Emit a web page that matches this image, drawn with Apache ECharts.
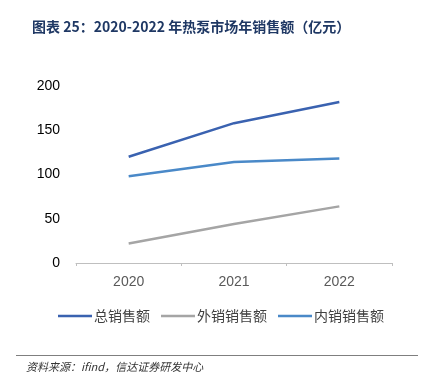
<!DOCTYPE html>
<html>
<head>
<meta charset="utf-8">
<script src="https://cdn.jsdelivr.net/npm/echarts@6/dist/echarts.min.js"></script>
<style>html,body{margin:0;padding:0;background:#fff}#c{width:423px;height:385px}</style>
</head>
<body>
<div id="c"></div>
<script>
const categories = ['2020', '2021', '2022'];
const totalSales = [120, 158, 182];
const exportSales = [22, 44, 64];
const domesticSales = [98, 114, 118];
const seriesNames = ['总销售额', '外销销售额', '内销销售额'];
const yTicks = [0, 50, 100, 150, 200];

const chart = echarts.init(document.getElementById('c'), null, {renderer: 'canvas'});
const font = '"Noto Sans CJK SC", "Liberation Sans", sans-serif';
chart.setOption({
  animation: false,
  backgroundColor: '#fff',
  title: {
    text: '图表 25：2020-2022 年热泵市场年销售额（亿元）',
    left: 27, top: 15,
    textStyle: {fontSize: 14, fontWeight: 'bold', color: '#1f3864', fontFamily: font}
  },
  grid: {left: 76, right: 31, top: 86, bottom: 122},
  legend: {
    data: seriesNames,
    icon: 'rect',
    left: 53, top: 304,
    itemWidth: 34, itemHeight: 2.5, itemGap: 11,
    textStyle: {fontSize: 14, color: '#404040', fontFamily: font, padding: [0, 0, 0, -3]}
  },
  xAxis: {
    type: 'category',
    data: categories,
    boundaryGap: true,
    axisLine: {lineStyle: {color: '#bfbfbf', width: 1}},
    axisTick: {show: true, length: 3, lineStyle: {color: '#bfbfbf'}},
    axisLabel: {fontSize: 14, color: '#595959', margin: 12, fontFamily: '"Liberation Sans", sans-serif'}
  },
  yAxis: {
    type: 'value',
    min: yTicks[0], max: yTicks[yTicks.length - 1], interval: 50,
    axisLine: {show: false},
    axisTick: {show: false},
    splitLine: {show: false},
    axisLabel: {fontSize: 14, color: '#000', margin: 16, fontFamily: '"Liberation Sans", sans-serif'}
  },
  graphic: [
    {type: 'line', shape: {x1: 16, y1: 355.5, x2: 418, y2: 355.5}, style: {stroke: '#7f7f7f', lineWidth: 1}},
    {type: 'text', left: 26, top: 361, style: {text: '资料来源：ifind，信达证券研发中心', fill: '#333', font: 'italic 11px "Noto Sans CJK SC", sans-serif'}}
  ],
  series: [
    {name: seriesNames[0], type: 'line', data: totalSales, symbol: 'none', lineStyle: {color: '#3a62b0', width: 2.5}, itemStyle: {color: '#3a62b0'}},
    {name: seriesNames[1], type: 'line', data: exportSales, symbol: 'none', lineStyle: {color: '#a5a5a5', width: 2.5}, itemStyle: {color: '#a5a5a5'}},
    {name: seriesNames[2], type: 'line', data: domesticSales, symbol: 'none', lineStyle: {color: '#4a89c8', width: 2.5}, itemStyle: {color: '#4a89c8'}}
  ]
});
</script>
</body>
</html>
